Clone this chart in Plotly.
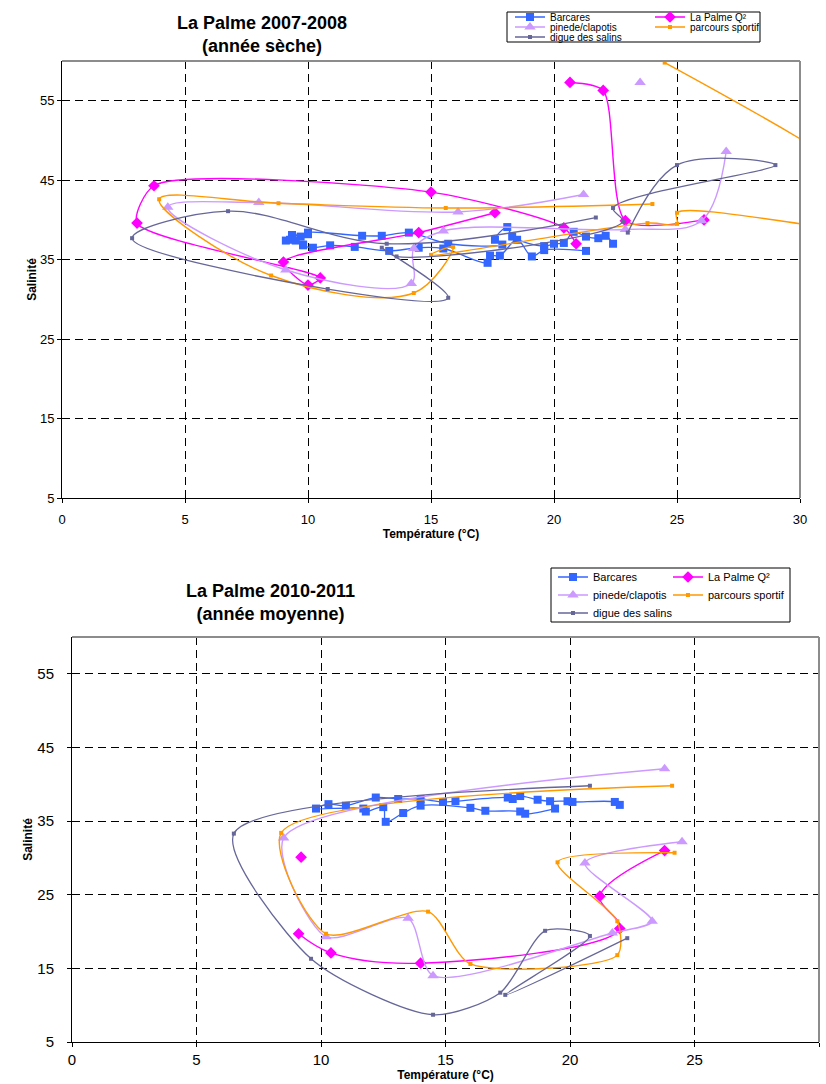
import plotly.graph_objects as go

W, H = 826, 1084
FONT = "Liberation Sans, Arial, sans-serif"

# ---------------- Data : La Palme 2007-2008 (année sèche) ----------------
names = ["Barcares", "La Palme Q²", "pinede/clapotis", "parcours sportif", "digue des salins"]

barc1_T = [22.4, 22.1, 21.8, 21.3, 20.8, 20.4, 20.0, 19.6, 18.3, 18.1, 17.6, 17.9, 15.7, 14.1,
           13.0, 12.2, 10.0, 10.0, 9.35, 9.7, 9.1, 9.27, 9.5, 9.8, 9.8, 10.2, 10.9, 11.9, 13.3,
           14.5, 15.5, 17.3, 17.4, 17.8, 18.5, 19.1, 19.6, 21.3]
barc1_S = [37.0, 38.0, 37.7, 37.9, 38.5, 37.1, 37.0, 36.7, 37.9, 39.1, 37.5, 36.9, 37.0, 38.4,
           38.0, 38.0, 38.4, 38.2, 38.1, 37.9, 37.4, 37.5, 37.4, 36.9, 36.8, 36.5, 36.8, 36.6, 36.1,
           36.5, 36.4, 34.6, 35.5, 35.5, 37.5, 35.4, 36.2, 36.1]

lp1_T = [20.65, 22.0, 22.9, 26.1, None, 20.9, 20.4, 15.0, 3.74, 3.05, 10.5, 10.0, 9.0, 14.5, 17.6]
lp1_S = [57.3, 56.3, 39.9, 40.0, None, 37.0, 39.0, 43.5, 44.3, 39.6, 32.7, 31.8, 34.7, 38.4, 40.9]

pin1_T = [23.5, None, 21.2, 16.1, 8.0, 4.3, 9.1, 14.2, 14.3, 15.5, 22.9, 26.0, 27.0]
pin1_S = [57.3, None, 43.2, 41.0, 42.2, 41.6, 33.7, 32.0, 36.4, 38.6, 38.8, 39.9, 48.6]

par1_T = [24.0, 15.6, 8.8, 3.95, 8.5, 14.3, 15.9, 15.0, 23.8, 25.0, 25.0, 35.0, 24.5]
par1_S = [42.0, 41.5, 42.1, 42.6, 33.0, 30.8, 36.6, 35.6, 39.6, 39.5, 40.9, 38.7, 59.8]

dig1_T = [21.7, 13.2, 6.75, 2.85, 10.8, 15.7, 13.0, 13.6, 22.8, 22.4, 29.0, 25.0, 23.0]
dig1_S = [40.3, 37.0, 41.1, 37.7, 31.3, 30.2, 36.5, 35.4, 39.8, 41.5, 46.9, 46.9, 38.4]

# ---------------- Data : La Palme 2010-2011 (année moyenne) ----------------
barc2_T = [22.0, 21.8, 20.1, 19.9, 19.2, 18.7, 18.0, 17.7, 17.5, 15.4, 14.9, 14.0, 13.1, 12.2,
           11.0, 10.3, 9.8, 11.7, 11.8, 12.5, 12.6, 13.3, 14.0, 16.0, 16.6, 18.0, 18.2, 19.4]
barc2_S = [37.2, 37.6, 37.6, 37.7, 37.7, 37.9, 38.4, 38.0, 38.2, 37.7, 37.6, 38.0, 38.0, 38.2,
           37.1, 37.3, 36.7, 36.7, 36.3, 36.9, 34.9, 36.1, 37.1, 36.8, 36.4, 36.3, 36.0, 36.7]

lp2_T = [9.2, None, 9.1, 10.4, 14.0, 22.0, 21.2, 23.8]
lp2_S = [30.1, None, 19.7, 17.1, 15.7, 20.4, 24.8, 31.0]

pin2_T = [23.8, 8.5, 10.2, 13.5, 14.5, 21.7, 23.3, 20.6, 24.5]
pin2_S = [42.1, 32.7, 19.3, 21.8, 14.0, 19.8, 21.4, 29.3, 32.2]

par2_T = [24.1, 8.4, 10.2, 14.3, 16.0, 21.9, 21.9, 19.5, 24.2]
par2_S = [39.8, 33.4, 19.7, 22.7, 15.6, 16.8, 21.4, 29.4, 30.7]

dig2_T = [20.8, 6.5, 9.6, 14.5, 17.2, 19.0, 20.8, 17.4, 22.3]
dig2_S = [39.8, 33.3, 16.3, 8.7, 11.7, 20.1, 19.4, 11.4, 19.1]

x_ticks = [0, 5, 10, 15, 20, 25, 30]
y_ticks = [5, 15, 25, 35, 45, 55]

styles = {
    "Barcares": dict(color="#3366FF", symbol="square", size=8, lw=1.3),
    "La Palme Q²": dict(color="#FF00FF", symbol="diamond", size=9, lw=1.4),
    "pinede/clapotis": dict(color="#CC99FF", symbol="triangle-up", size=10, lw=1.4),
    "parcours sportif": dict(color="#FF9900", symbol="square", size=4, lw=1.4),
    "digue des salins": dict(color="#666699", symbol="square", size=4, lw=1.3),
}
# legend cell (column, row) of each series
legend_cell = {"Barcares": (0, 0), "La Palme Q²": (1, 0), "pinede/clapotis": (0, 1),
               "parcours sportif": (1, 1), "digue des salins": (0, 2)}

charts = [
    dict(xa="x", ya="y", leg_offset=0, cols=[510, 650], rows=[17, 27, 37], lfs=10,
         smooth={"La Palme Q²": 0.7},
         data=[(barc1_T, barc1_S), (lp1_T, lp1_S), (pin1_T, pin1_S), (par1_T, par1_S), (dig1_T, dig1_S)]),
    dict(xa="x2", ya="y2", leg_offset=5, cols=[553, 668], rows=[577, 595, 613], lfs=11,
         smooth={"pinede/clapotis": 0.75, "parcours sportif": 0.75, "digue des salins": 0.75},
         data=[(barc2_T, barc2_S), (lp2_T, lp2_S), (pin2_T, pin2_S), (par2_T, par2_S), (dig2_T, dig2_S)]),
]

def px(v):
    return v / W

def py(v):
    return 1 - v / H

fig = go.Figure()
legends = {}
for ch in charts:
    for i, (name, (xs, ys)) in enumerate(zip(names, ch["data"])):
        st = styles[name]
        lname = f"legend{ch['leg_offset'] + i + 2}"
        c, r = legend_cell[name]
        legends[lname] = dict(
            x=px(ch["cols"][c]), y=py(ch["rows"][r]), xanchor="left", yanchor="middle",
            orientation="v", bgcolor="rgba(0,0,0,0)", borderwidth=0,
            font=dict(family=FONT, size=ch["lfs"], color="black"),
            itemclick=False, itemdoubleclick=False)
        fig.add_trace(go.Scatter(
            x=xs, y=ys, name=name, mode="lines+markers",
            xaxis=ch["xa"], yaxis=ch["ya"], legend=lname,
            line=dict(color=st["color"], width=st["lw"], shape="spline",
                      smoothing=ch["smooth"].get(name, 1)),
            marker=dict(color=st["color"], symbol=st["symbol"], size=st["size"]),
            connectgaps=False,
        ))

def axis_common(domain, rng, ticks, title, standoff, fs, lstand):
    return dict(
        domain=domain, range=rng, tickvals=ticks, showgrid=True, gridcolor="black",
        griddash="8px,5px", gridwidth=1, showline=True, linecolor="black", linewidth=1,
        ticks="outside", ticklen=4, tickcolor="black", zeroline=False,
        tickfont=dict(family=FONT, size=fs, color="black"), ticklabelstandoff=lstand,
        title=dict(text=title, font=dict(family=FONT, size=12, color="black", weight="bold"),
                   standoff=standoff),
        automargin=False, fixedrange=True,
    )

layout = dict(
    width=W, height=H, margin=dict(l=0, r=0, t=0, b=0),
    paper_bgcolor="white", plot_bgcolor="white", showlegend=True,
    font=dict(family=FONT, color="black"),
    xaxis=dict(anchor="y", **axis_common([px(62), px(800)], [0, 30], x_ticks, "Température (°C)", 0, 13, 5)),
    yaxis=dict(anchor="x", **axis_common([py(498), py(61)], [5, 60], y_ticks, "Salinité", 0, 13, 0)),
    xaxis2=dict(anchor="y2", **axis_common([px(72), px(819)], [0, 30], x_ticks, "Température (°C)", 0, 15, 0)),
    yaxis2=dict(anchor="x2", **axis_common([py(1042), py(637)], [5, 60], y_ticks, "Salinité", 2, 15, 10)),
)
layout.update(legends)
fig.update_layout(**layout)

shapes = []
# gray plot-area borders (top and right)
for xa, ya in [("x", "y"), ("x2", "y2")]:
    shapes.append(dict(type="line", xref=f"{xa} domain", yref=f"{ya} domain", x0=0, x1=1, y0=1, y1=1,
                       line=dict(color="#8c8c8c", width=2), layer="above"))
    shapes.append(dict(type="line", xref=f"{xa} domain", yref=f"{ya} domain", x0=1, x1=1, y0=0, y1=1,
                       line=dict(color="#8c8c8c", width=2), layer="above"))
# legend frames
shapes.append(dict(type="rect", xref="paper", yref="paper", x0=px(507), x1=px(760), y0=py(42), y1=py(12),
                   line=dict(color="black", width=1), fillcolor="rgba(0,0,0,0)", layer="above"))
shapes.append(dict(type="rect", xref="paper", yref="paper", x0=px(551), x1=px(790), y0=py(622), y1=py(568),
                   line=dict(color="black", width=1), fillcolor="rgba(0,0,0,0)", layer="above"))
fig.update_layout(shapes=shapes)

fig.add_annotation(x=px(262), y=py(34.5), xref="paper", yref="paper", showarrow=False,
                   text="La Palme 2007-2008<br>(année sèche)", xanchor="center", yanchor="middle",
                   font=dict(family=FONT, size=18, color="black", weight="bold"))
fig.add_annotation(x=px(270), y=py(602), xref="paper", yref="paper", showarrow=False,
                   text="La Palme 2010-2011<br>(année moyenne)", xanchor="center", yanchor="middle",
                   font=dict(family=FONT, size=18, color="black", weight="bold"))

fig.write_html(
    "out.html",
    config={"displayModeBar": False},
    post_script="document.body.style.margin='0';document.body.style.overflow='hidden';",
)
